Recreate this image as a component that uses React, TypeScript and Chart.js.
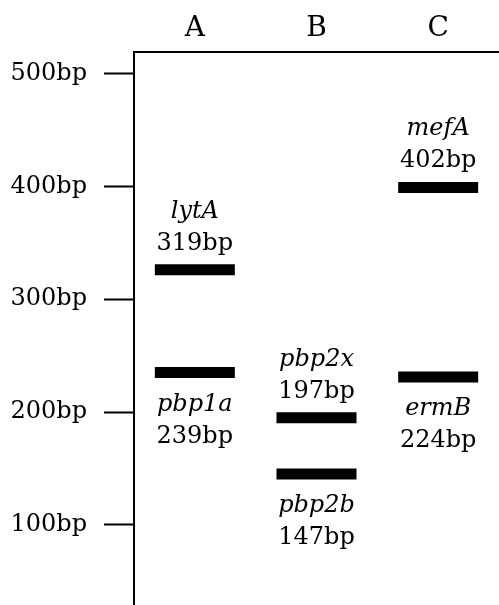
import React, { useEffect, useRef } from "react";
import { Chart, registerables } from "chart.js";

Chart.register(...registerables);

// Lanes (columns) of the gel diagram
const lanes = ["A", "B", "C"];

// Bands
const genes = ["lytA", "pbp1a", "pbp2x", "pbp2b", "mefA", "ermB"];
const geneLane = ["A", "A", "B", "B", "C", "C"];
const sizeLabels = ["319bp", "239bp", "197bp", "147bp", "402bp", "224bp"];
const bandPositions = [326, 235, 195, 145, 399, 231];
const labelSide = ["above", "below", "above", "below", "above", "below"];

// Y axis (marker ladder)
const tickValues = [100, 200, 300, 400, 500];
const yMin = 29;
const yMax = 519;

const FONT = "DejaVu Serif";

const bandLabelPlugin = {
  id: "bandLabels",
  afterDatasetsDraw(chart: any) {
    const { ctx, scales } = chart;
    const xs = scales.x;
    const ys = scales.y;
    ctx.save();
    ctx.fillStyle = "#000";
    ctx.textAlign = "center";
    ctx.textBaseline = "alphabetic";
    genes.forEach((g, i) => {
      const x = xs.getPixelForValue(lanes.indexOf(geneLane[i]));
      const y = ys.getPixelForValue(bandPositions[i]);
      const above = labelSide[i] === "above";
      const gy = above ? y - 52 : y + 38;
      const sy = above ? y - 20 : y + 70;
      ctx.font = `italic 24px ${FONT}`;
      ctx.fillText(g, x, gy);
      ctx.font = `24px ${FONT}`;
      ctx.fillText(sizeLabels[i], x, sy);
    });
    ctx.restore();
  },
};

export default function App() {
  const ref = useRef<HTMLCanvasElement | null>(null);

  useEffect(() => {
    if (!ref.current) return;
    const chart = new Chart(ref.current, {
      type: "line",
      data: {
        labels: lanes,
        datasets: [
          {
            data: genes.map((_, i) => ({ x: geneLane[i], y: bandPositions[i] })),
            showLine: false,
            pointStyle: "line",
            pointRadius: 40,
            pointHoverRadius: 40,
            pointBorderWidth: 11,
            pointHoverBorderWidth: 11,
            borderColor: "#000",
            backgroundColor: "#000",
          } as any,
        ],
      },
      options: {
        animation: false,
        responsive: false,
        devicePixelRatio: 1,
        events: [],
        layout: { padding: 0, autoPadding: false },
        plugins: {
          legend: { display: false },
          tooltip: { enabled: false },
        },
        scales: {
          x: {
            type: "category",
            position: "top",
            offset: true,
            grid: { display: true, drawOnChartArea: false, drawTicks: false },
            border: { display: true, color: "#000", width: 2 },
            ticks: {
              color: "#000",
              font: { family: FONT, size: 28 },
              padding: 6,
            },
            afterFit: (s: any) => {
              s.height = 52;
              s.paddingLeft = 0;
              s.paddingRight = 0;
            },
          },
          y: {
            type: "linear",
            min: yMin,
            max: yMax,
            grid: {
              display: true,
              drawOnChartArea: false,
              drawTicks: true,
              tickLength: 30,
              tickWidth: 2,
              tickColor: "#000",
            },
            border: { display: true, color: "#000", width: 2 },
            ticks: {
              color: "#000",
              font: { family: FONT, size: 24 },
              padding: 17,
              callback: (v: any) => `${v}bp`,
            },
            afterBuildTicks: (s: any) => {
              s.ticks = tickValues.map((v) => ({ value: v }));
            },
            afterFit: (s: any) => {
              s.width = 134;
              s.paddingTop = 0;
              s.paddingBottom = 0;
            },
          },
        },
      },
      plugins: [bandLabelPlugin],
    });
    return () => chart.destroy();
  }, []);

  return (
    <div style={{ position: "absolute", left: 0, top: 0, width: 499, height: 605, background: "#fff" }}>
      <canvas ref={ref} width={499} height={605} style={{ display: "block", width: 499, height: 605 }} />
    </div>
  );
}
